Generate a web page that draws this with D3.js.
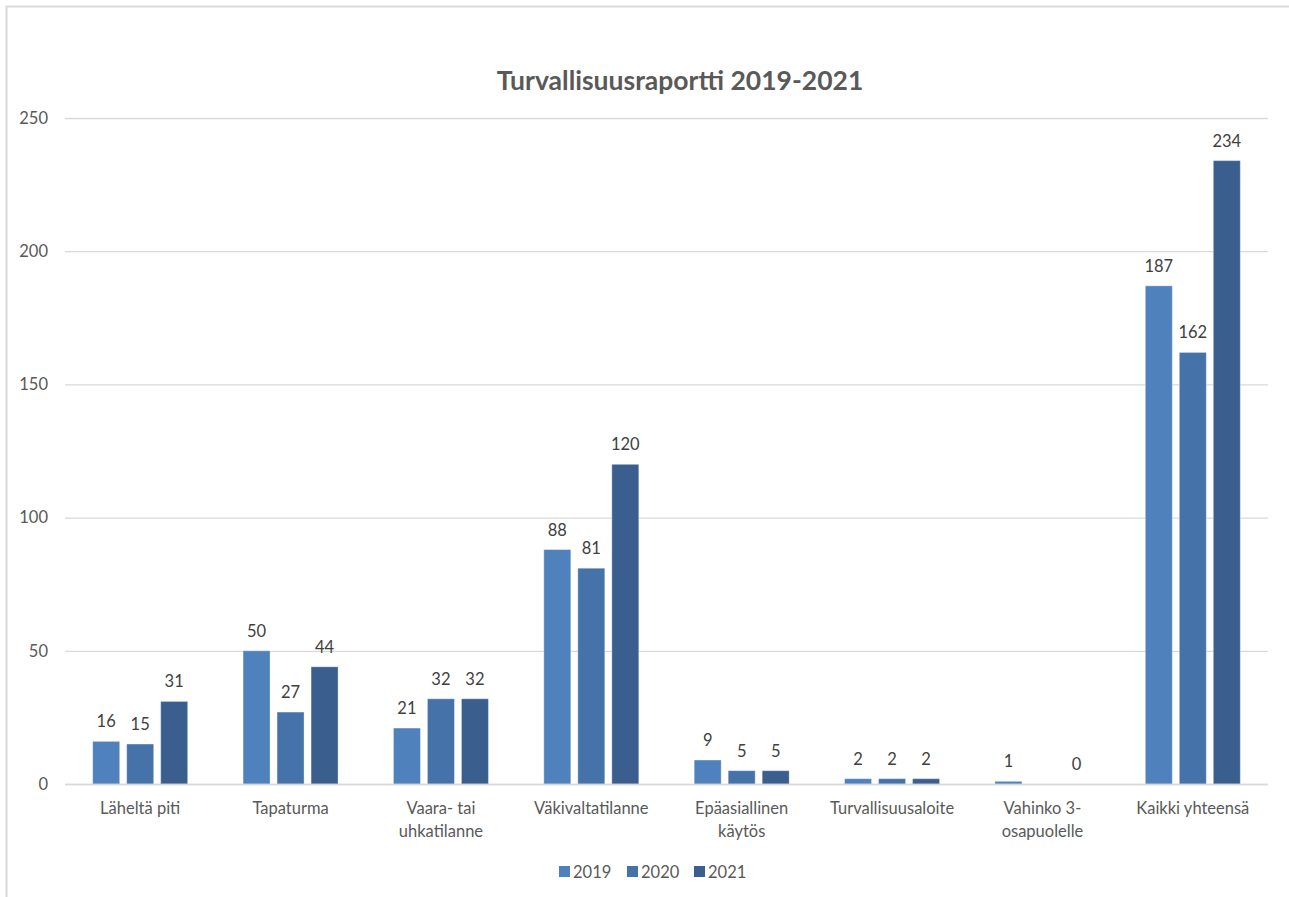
<!DOCTYPE html>
<html>
<head>
<meta charset="utf-8">
<script src="https://cdn.jsdelivr.net/npm/d3@7"></script>
<style>
  html, body { margin: 0; padding: 0; background: #fff; }
  svg { display: block; }
</style>
</head>
<body>
<svg id="chart" width="1289" height="897"></svg>
<script>
// Category labels (split into lines where the axis wraps them)
const categories = [
  ["Läheltä piti"],
  ["Tapaturma"],
  ["Vaara- tai", "uhkatilanne"],
  ["Väkivaltatilanne"],
  ["Epäasiallinen", "käytös"],
  ["Turvallisuusaloite"],
  ["Vahinko 3-", "osapuolelle"],
  ["Kaikki yhteensä"]
];
const seriesNames = ["2019", "2020", "2021"];
const values2019 = [16, 50, 21, 88, 9, 2, 1, 187];
const values2020 = [15, 27, 32, 81, 5, 2, null, 162];
const values2021 = [31, 44, 32, 120, 5, 2, 0, 234];
const yTicks = [0, 50, 100, 150, 200, 250];
const colors = ["#4f81bd", "#4572a8", "#3a5f8e"];

const seriesValues = [values2019, values2020, values2021];
const font = "Lato, 'Open Sans', sans-serif";

const svg = d3.select("#chart");

// Chart frame
svg.append("rect")
  .attr("x", 6.5).attr("y", 6.5)
  .attr("width", 1300).attr("height", 900)
  .attr("fill", "none").attr("stroke", "#d9d9d9").attr("stroke-width", 2);

const plot = { left: 65, right: 1268, top: 118, bottom: 784 };

const x = d3.scaleBand()
  .domain(d3.range(categories.length))
  .range([plot.left, plot.right])
  .paddingInner(0).paddingOuter(0);

const y = d3.scaleLinear().domain([0, 250]).range([plot.bottom, plot.top]);

// Width occupied by the three bars of one category
const groupInner = 95;
const xs = d3.scaleBand()
  .domain(seriesNames)
  .range([0, groupInner])
  .paddingInner(0.206).paddingOuter(0);

// Title
svg.append("text")
  .attr("x", 680).attr("y", 90)
  .attr("text-anchor", "middle")
  .attr("font-family", font)
  .attr("font-weight", "bold")
  .attr("font-size", 26.5)
  .attr("fill", "#595959")
  .text("Turvallisuusraportti 2019-2021");

// Gridlines + y axis labels
const yAxis = d3.axisLeft(y).tickValues(yTicks).tickSize(-(plot.right - plot.left)).tickPadding(17);
const gy = svg.append("g").attr("transform", `translate(${plot.left},0)`).call(yAxis);
gy.select(".domain").remove();
gy.selectAll(".tick line").attr("stroke", "#d9d9d9").attr("stroke-width", 1.3);
gy.selectAll(".tick text")
  .attr("font-family", font).attr("font-size", 16.5).attr("fill", "#595959");

// Bars
const groups = svg.append("g").selectAll("g")
  .data(categories.map((c, i) => i))
  .join("g")
  .attr("transform", i => `translate(${x(i) + (x.bandwidth() - groupInner) / 2},0)`);

seriesNames.forEach((name, si) => {
  groups.each(function (i) {
    const v = seriesValues[si][i];
    if (v === null) return;
    const g = d3.select(this);
    g.append("rect")
      .attr("x", xs(name))
      .attr("y", y(v))
      .attr("width", xs.bandwidth())
      .attr("height", y(0) - y(v))
      .attr("fill", colors[si])
      .attr("stroke", "#ffffff").attr("stroke-opacity", 0.35).attr("stroke-width", 1);
    g.append("text")
      .attr("x", xs(name) + xs.bandwidth() / 2)
      .attr("y", y(v) - 14)
      .attr("text-anchor", "middle")
      .attr("font-family", font).attr("font-size", 16.5)
      .attr("fill", "#404040")
      .text(v);
  });
});

// Baseline
svg.append("line")
  .attr("x1", plot.left).attr("x2", plot.right)
  .attr("y1", y(0) + 0.5).attr("y2", y(0) + 0.5)
  .attr("stroke", "#d9d9d9").attr("stroke-width", 1.3);

// Category labels
const catG = svg.append("g");
categories.forEach((lines, i) => {
  const t = catG.append("text")
    .attr("text-anchor", "middle")
    .attr("font-family", font).attr("font-size", 16.5)
    .attr("fill", "#595959");
  lines.forEach((ln, li) => {
    t.append("tspan")
      .attr("x", x(i) + x.bandwidth() / 2)
      .attr("y", 814 + li * 23)
      .text(ln);
  });
});

// Legend
const legendX = [559, 627, 694];
seriesNames.forEach((name, si) => {
  const lg = svg.append("g").attr("transform", `translate(${legendX[si]},0)`);
  lg.append("rect").attr("x", 0).attr("y", 866).attr("width", 11).attr("height", 11).attr("fill", colors[si]);
  lg.append("text").attr("x", 14).attr("y", 877.5)
    .attr("font-family", font).attr("font-size", 16.5).attr("fill", "#595959")
    .text(name);
});
</script>
</body>
</html>
